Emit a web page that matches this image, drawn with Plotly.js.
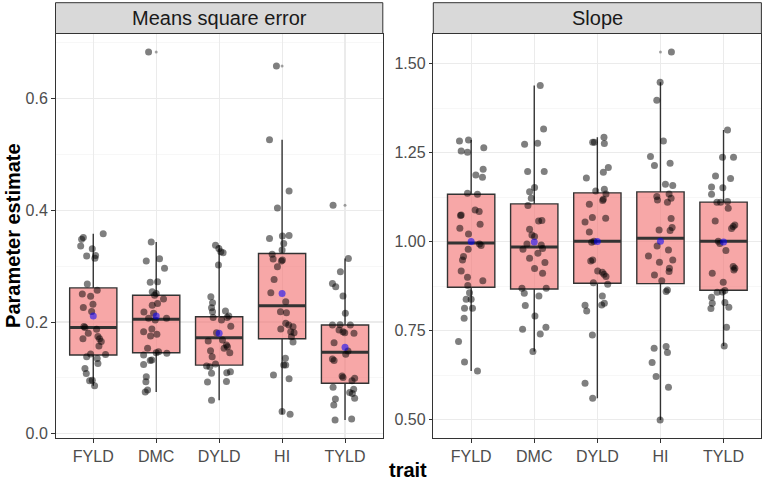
<!DOCTYPE html>
<html>
<head>
<meta charset="utf-8">
<script src="https://cdn.plot.ly/plotly-3.0.1.min.js"></script>
<style>html,body{margin:0;padding:0;background:#fff;}#chart{width:762px;height:482px;}</style>
</head>
<body>
<div id="chart"></div>
<script>
// ---------- data ----------
const categories = ['FYLD', 'DMC', 'DYLD', 'HI', 'TYLD'];
const panelTitles = ['Means square error', 'Slope'];
const xTitle = 'trait';
const yTitle = 'Parameter estimate';

// Means square error: jittered observations (value) and their horizontal jitter (category units)
const mseFYLD = [0.358,0.351,0.348,0.336,0.331,0.318,0.319,0.314,0.268,0.257,0.250,0.246,0.232,0.226,0.219,0.192,0.190,0.187,0.180,0.174,0.170,0.170,0.165,0.157,0.143,0.138,0.135,0.142,0.126,0.117,0.108,0.096,0.095,0.086];
const mseFYLDJit = [0.158,-0.158,-0.185,-0.2,-0.016,-0.105,0.037,0.026,-0.095,0.063,-0.174,-0.042,-0.005,-0.158,-0.026,-0.148,-0.132,0.053,-0.079,0.074,0.1,-0.164,0.127,0.09,-0.042,-0.105,0.063,0.195,0.074,-0.132,-0.111,-0.016,-0.058,0.021];
const mseDMC = [0.683,0.343,0.309,0.313,0.296,0.271,0.272,0.254,0.251,0.248,0.241,0.233,0.230,0.218,0.2155,0.2066,0.2036,0.2066,0.1827,0.1875,0.175,0.178,0.153,0.147,0.145,0.144,0.141,0.131,0.132,0.124,0.102,0.0934,0.0786,0.075];
const mseDMCJit = [-0.121,-0.079,-0.158,0.053,0.132,-0.095,0.021,-0.063,0,-0.026,0.116,0.021,-0.063,-0.195,-0.042,-0.121,-0.016,0.164,-0.2,-0.069,-0.09,0.011,-0.137,0.037,0,0.169,-0.2,-0.095,-0.069,-0.2,-0.158,-0.164,-0.137,-0.174];
const mseDYLD = [0.3375,0.3315,0.3256,0.3238,0.3018,0.2452,0.2345,0.2256,0.2185,0.2196,0.2107,0.2083,0.2083,0.2036,0.1923,0.181,0.166,0.1679,0.1488,0.153,0.159,0.156,0.145,0.1381,0.1214,0.1202,0.125,0.1083,0.1095,0.1113,0.0929,0.0935,0.0601];
const mseDYLDJit = [-0.058,-0.005,0.026,0.063,-0.011,-0.132,-0.105,-0.121,-0.105,0.1,0.153,-0.095,0.127,0.037,0.185,-0.042,-0.174,0.053,-0.137,0.079,0.116,0.132,0.169,-0.111,-0.2,-0.148,-0.058,-0.121,0.121,0.179,-0.185,0.116,-0.121];
const mseHI = [0.658,0.526,0.4345,0.404,0.3494,0.3536,0.3548,0.3405,0.3286,0.3214,0.3125,0.3107,0.309,0.2988,0.2762,0.2524,0.2363,0.2185,0.2167,0.1976,0.1946,0.1917,0.1875,0.1827,0.181,0.1738,0.1643,0.1351,0.1232,0.1232,0.1054,0.0988,0.0399,0.0351];
const mseHIJit = [-0.09,-0.2,0.111,-0.074,-0.2,0.005,0.111,0.026,0,-0.158,-0.142,0.005,-0.011,-0.074,-0.127,-0.179,0.058,-0.026,0.069,0.058,0.105,0.174,-0.021,0.137,0.19,0.148,0.174,0.053,0.026,0.058,-0.137,0.111,0,0.127];
const mseTYLD = [0.409,0.3137,0.2899,0.269,0.263,0.2464,0.2155,0.1946,0.1952,0.1946,0.1857,0.1827,0.181,0.1798,0.1631,0.1482,0.1423,0.1339,0.131,0.1036,0.1006,0.0994,0.0952,0.0833,0.0798,0.0738,0.072,0.0637,0.0625,0.0518,0.025,0.0268];
const mseTYLDJit = [-0.19,0.053,-0.074,-0.2,-0.148,-0.032,0.005,-0.2,-0.079,0.084,-0.095,-0.032,-0.005,0.142,-0.174,0.047,0.011,-0.2,-0.174,-0.047,-0.032,0.153,0.111,-0.19,0.137,0.074,0.116,0.153,-0.153,-0.179,-0.158,0.105];

// Means square error: box summary
const mseQ1 = [0.141, 0.145, 0.123, 0.170, 0.0905];
const mseMedian = [0.190, 0.205, 0.172, 0.229, 0.1458];
const mseQ3 = [0.261, 0.248, 0.2095, 0.3226, 0.1946];
const mseLower = [0.086, 0.075, 0.0601, 0.0351, 0.025];
const mseUpper = [0.358, 0.343, 0.3375, 0.526, 0.3137];
const mseMean = [0.211, 0.211, 0.180, 0.251, 0.1548];
const mseOutlierCat = ['DMC', 'HI', 'TYLD'];
const mseOutlierVal = [0.683, 0.658, 0.409];
const mseTicks = [0, 0.2, 0.4, 0.6];
const mseTickLabels = ['0.0', '0.2', '0.4', '0.6'];

// Slope: jittered observations
const slpFYLD = [1.2829,1.2857,1.2547,1.2510,1.2640,1.2033,1.1873,1.1808,1.1359,1.1331,1.075,1.0731,1.089,1.0843,1.0488,1.0375,1.0216,0.9935,0.9888,0.9785,0.9579,0.9485,0.9177,0.9,0.8904,0.8764,0.8567,0.8382,0.8382,0.8129,0.8129,0.7848,0.7191,0.6621,0.6368];
const slpFYLDJit = [-0.185,-0.042,-0.158,-0.058,0.2,0.19,0.074,0.179,-0.058,0.1,-0.158,-0.169,0.063,0.127,0.142,-0.179,-0.042,0.132,0.158,-0.047,-0.121,-0.137,-0.158,-0.058,0.185,-0.053,-0.026,-0.079,0,-0.105,0.021,-0.111,-0.2,-0.105,0.1];
const slpDMC = [1.4382,1.3166,1.2735,1.2763,1.1966,1.1966,1.1517,1.1404,1.1219,1.1011,1.059,1.058,1.0348,1.0188,1.0141,0.9935,0.9785,0.9907,0.9804,0.9674,0.9534,0.941,0.9242,0.9112,0.8691,0.8551,0.8691,0.8475,0.8202,0.7913,0.7539,0.7596,0.7407,0.691];
const slpDMCJit = [0.095,0.148,-0.153,0.053,-0.105,0.158,0.005,-0.074,-0.047,-0.1,0.121,0.069,-0.074,-0.037,0.005,-0.116,-0.179,0.111,0.132,0.058,-0.074,0.169,0.005,0.132,-0.195,-0.158,0.19,0.074,-0.142,0.011,-0.185,0.185,0.095,-0.021];
const slpDYLD = [1.2792,1.2792,1.2933,1.2755,1.2079,1.1949,1.1789,1.1424,1.1471,1.134,1.1191,1.1154,1.1051,1.0674,1.0656,1.0553,1.0272,0.9983,1.0011,0.9486,0.9458,0.9177,0.914,0.9083,0.9018,0.8848,0.8801,0.8475,0.8222,0.8269,0.8213,0.8053,0.7379,0.6022,0.5601];
const slpDYLDJit = [-0.074,-0.047,0.105,0.111,0.174,0.095,-0.174,-0.026,0.111,0.137,0.095,0.084,-0.127,-0.079,0.132,-0.195,-0.127,-0.09,-0.053,-0.074,-0.105,0.005,0.079,0.105,0.137,-0.063,0.164,0.079,0.069,0.111,-0.195,-0.169,-0.079,-0.195,-0.074];
const slpHI = [1.5329,1.4478,1.3972,1.2829,1.2388,1.2135,1.2201,1.1612,1.1575,1.1264,1.1171,1.1339,1.1217,1.1105,1.0646,1.0329,1.0394,1.031,0.9879,0.9598,0.9766,0.9485,0.9421,0.925,0.9158,0.9065,0.8904,0.8643,0.8597,0.7006,0.7053,0.6885,0.6601,0.6208,0.591,0.4992];
const slpHIJit = [0.174,-0.005,-0.058,0.047,-0.158,-0.095,0.153,0.079,0.195,-0.058,-0.047,0.137,0.169,0.111,0.169,-0.021,0.185,0.153,-0.053,-0.19,0.127,0.195,-0.016,0.142,0.137,-0.095,0.021,0.111,0.09,-0.1,0.09,0.111,-0.132,-0.069,0.127,-0.005];
const slpTYLD = [1.3138,1.2371,1.2371,1.1846,1.1771,1.1537,1.151,1.1331,1.1107,1.1107,1.1126,1.094,1.0581,1.0469,1.0422,1.0366,1.0011,0.9946,0.9747,0.9298,0.9251,0.9204,0.9111,0.886,0.8579,0.8588,0.8625,0.8438,0.8269,0.8119,0.8288,0.8157,0.7596,0.707];
const slpTYLDJit = [0.063,-0.016,0.158,-0.127,0.111,-0.19,-0.011,-0.19,-0.105,-0.047,0.063,0.074,-0.132,0.179,0.153,0.127,-0.084,-0.058,0.037,0.153,0.179,0.164,-0.179,-0.005,-0.1,-0.016,0.021,-0.19,-0.179,-0.2,0.021,0.084,0.047,0.011];

// Slope: box summary
const slpQ1 = [0.872, 0.867, 0.883, 0.882, 0.8635];
const slpMedian = [0.996, 0.985, 1.001, 1.0095, 1.001];
const slpQ3 = [1.133, 1.106, 1.137, 1.1396, 1.111];
const slpLower = [0.6368, 0.691, 0.5601, 0.4992, 0.707];
const slpUpper = [1.2857, 1.4382, 1.2933, 1.4478, 1.3138];
const slpMean = [1.000, 0.999, 1.000, 1.001, 0.999];
const slpOutlierCat = ['HI'];
const slpOutlierVal = [1.5329];
const slpTicks = [0.5, 0.75, 1.0, 1.25, 1.5];
const slpTickLabels = ['0.50', '0.75', '1.00', '1.25', '1.50'];

// ---------- styling / layout constants ----------
const W = 762, H = 482;
const FONT = 'Liberation Sans, Arial, Helvetica, sans-serif';
const px = v => v / W;
const py = v => (H - v) / H;
const panelL = [55.5, 382.8], panelR = [433.3, 761.4];
const panelTop = 33.5, panelBot = 438.3, stripTop = 2.7;
const boxW = 0.75;
const pos = categories.map((c, i) => i + 1);
const catIndex = c => categories.indexOf(c) + 1;

function panelTraces(groups, jits, q1, med, q3, lo, hi, mean, outCat, outVal, xa, ya) {
  const plotW = (xa === 'x' ? panelL[1] - panelL[0] : panelR[1] - panelR[0]) / 5.2; // px per category
  const traces = [];
  traces.push({
    type: 'box', x: pos, q1: q1, median: med, q3: q3, lowerfence: lo, upperfence: hi,
    boxpoints: false, width: boxW, whiskerwidth: 0,
    fillcolor: 'rgba(243,120,120,0.65)', line: { color: '#333333', width: 1.4 },
    xaxis: xa, yaxis: ya, hoverinfo: 'skip', showlegend: false
  });
  // thick median bar
  traces.push({
    type: 'scatter', mode: 'markers', x: pos, y: med, xaxis: xa, yaxis: ya,
    marker: { symbol: 'line-ew', size: plotW * boxW / 1.4, line: { color: '#333333', width: 3 } },
    hoverinfo: 'skip', showlegend: false
  });
  // outliers drawn by boxplot
  traces.push({
    type: 'scatter', mode: 'markers', x: outCat.map(catIndex), y: outVal, xaxis: xa, yaxis: ya,
    marker: { size: 3, color: 'rgba(0,0,0,0.35)' }, hoverinfo: 'skip', showlegend: false
  });
  // jittered points
  const xs = [], ys = [];
  groups.forEach((vals, gi) => {
    const j = jits[gi];
    vals.forEach((v, k) => { xs.push(gi + 1 + (j[k] || 0)); ys.push(v); });
  });
  traces.push({
    type: 'scatter', mode: 'markers', x: xs, y: ys, xaxis: xa, yaxis: ya,
    marker: { size: 7, color: 'rgba(0,0,0,0.5)', line: { width: 0 } },
    hoverinfo: 'skip', showlegend: false
  });
  // means
  traces.push({
    type: 'scatter', mode: 'markers', x: pos, y: mean, xaxis: xa, yaxis: ya,
    marker: { size: 7, color: 'rgba(0,0,255,0.55)', line: { width: 0 } },
    hoverinfo: 'skip', showlegend: false
  });
  return traces;
}

const data = [].concat(
  panelTraces([mseFYLD, mseDMC, mseDYLD, mseHI, mseTYLD],
              [mseFYLDJit, mseDMCJit, mseDYLDJit, mseHIJit, mseTYLDJit],
              mseQ1, mseMedian, mseQ3, mseLower, mseUpper, mseMean, mseOutlierCat, mseOutlierVal, 'x', 'y'),
  panelTraces([slpFYLD, slpDMC, slpDYLD, slpHI, slpTYLD],
              [slpFYLDJit, slpDMCJit, slpDYLDJit, slpHIJit, slpTYLDJit],
              slpQ1, slpMedian, slpQ3, slpLower, slpUpper, slpMean, slpOutlierCat, slpOutlierVal, 'x2', 'y2')
);

function rangeOf(arrs) {
  const all = [].concat(...arrs);
  const mn = Math.min(...all), mx = Math.max(...all), pad = (mx - mn) * 0.05;
  return [mn - pad, mx + pad];
}

const xCommon = {
  range: [0.4, 5.6], tickmode: 'array', tickvals: pos, ticktext: categories,
  showgrid: true, gridcolor: '#EBEBEB', gridwidth: 1.1, zeroline: false,
  showline: true, mirror: true, linecolor: '#333333', linewidth: 1,
  ticks: 'outside', ticklen: 3.5, tickwidth: 1, tickcolor: '#333333',
  tickfont: { family: FONT, size: 16, color: '#4D4D4D' }, automargin: false, fixedrange: true
};
const yCommon = {
  showgrid: true, gridcolor: '#EBEBEB', gridwidth: 1.1, zeroline: false,
  showline: true, mirror: true, linecolor: '#333333', linewidth: 1,
  ticks: 'outside', ticklen: 3.5, tickwidth: 1, tickcolor: '#333333',
  tickfont: { family: FONT, size: 16, color: '#4D4D4D' }, automargin: false, fixedrange: true,
  domain: [py(panelBot), py(panelTop)]
};

const layout = {
  width: W, height: H,
  margin: { l: 0, r: 0, t: 0, b: 0, pad: 0 },
  paper_bgcolor: '#FFFFFF', plot_bgcolor: '#FFFFFF',
  showlegend: false,
  font: { family: FONT },
  xaxis: Object.assign({}, xCommon, { domain: [px(panelL[0]), px(panelL[1])], anchor: 'y' }),
  xaxis2: Object.assign({}, xCommon, { domain: [px(panelR[0]), px(panelR[1])], anchor: 'y2' }),
  yaxis: Object.assign({}, yCommon, {
    anchor: 'x', range: rangeOf([mseFYLD, mseDMC, mseDYLD, mseHI, mseTYLD]),
    tickmode: 'array', tickvals: mseTicks, ticktext: mseTickLabels,
    minor: { dtick: 0.1, tick0: 0, showgrid: true, gridcolor: '#F3F3F3', gridwidth: 0.7, ticks: '' }
  }),
  yaxis2: Object.assign({}, yCommon, {
    anchor: 'x2', range: rangeOf([slpFYLD, slpDMC, slpDYLD, slpHI, slpTYLD]),
    tickmode: 'array', tickvals: slpTicks, ticktext: slpTickLabels,
    minor: { dtick: 0.125, tick0: 0.5, showgrid: true, gridcolor: '#F3F3F3', gridwidth: 0.7, ticks: '' }
  }),
  shapes: [
    { type: 'rect', xref: 'paper', yref: 'paper', x0: px(panelL[0]), x1: px(panelL[1]), y0: py(panelTop), y1: py(stripTop),
      fillcolor: '#D9D9D9', line: { color: '#333333', width: 1 } },
    { type: 'rect', xref: 'paper', yref: 'paper', x0: px(panelR[0]), x1: px(panelR[1]), y0: py(panelTop), y1: py(stripTop),
      fillcolor: '#D9D9D9', line: { color: '#333333', width: 1 } }
  ],
  annotations: [
    { text: panelTitles[0], xref: 'paper', yref: 'paper', x: px((panelL[0] + panelL[1]) / 2), y: py((panelTop + stripTop) / 2),
      xanchor: 'center', yanchor: 'middle', showarrow: false, font: { family: FONT, size: 20, color: '#1A1A1A' } },
    { text: panelTitles[1], xref: 'paper', yref: 'paper', x: px((panelR[0] + panelR[1]) / 2), y: py((panelTop + stripTop) / 2),
      xanchor: 'center', yanchor: 'middle', showarrow: false, font: { family: FONT, size: 20, color: '#1A1A1A' } },
    { text: '<b>' + xTitle + '</b>', xref: 'paper', yref: 'paper', x: px((panelL[0] + panelR[1]) / 2), y: py(470),
      xanchor: 'center', yanchor: 'middle', showarrow: false, font: { family: FONT, size: 20, color: '#000000' } },
    { text: '<b>' + yTitle + '</b>', xref: 'paper', yref: 'paper', x: px(13), y: py((panelTop + panelBot) / 2),
      xanchor: 'center', yanchor: 'middle', textangle: -90, showarrow: false, font: { family: FONT, size: 20, color: '#000000' } }
  ]
};

Plotly.newPlot('chart', data, layout, { staticPlot: true, displayModeBar: false });
</script>
</body>
</html>
